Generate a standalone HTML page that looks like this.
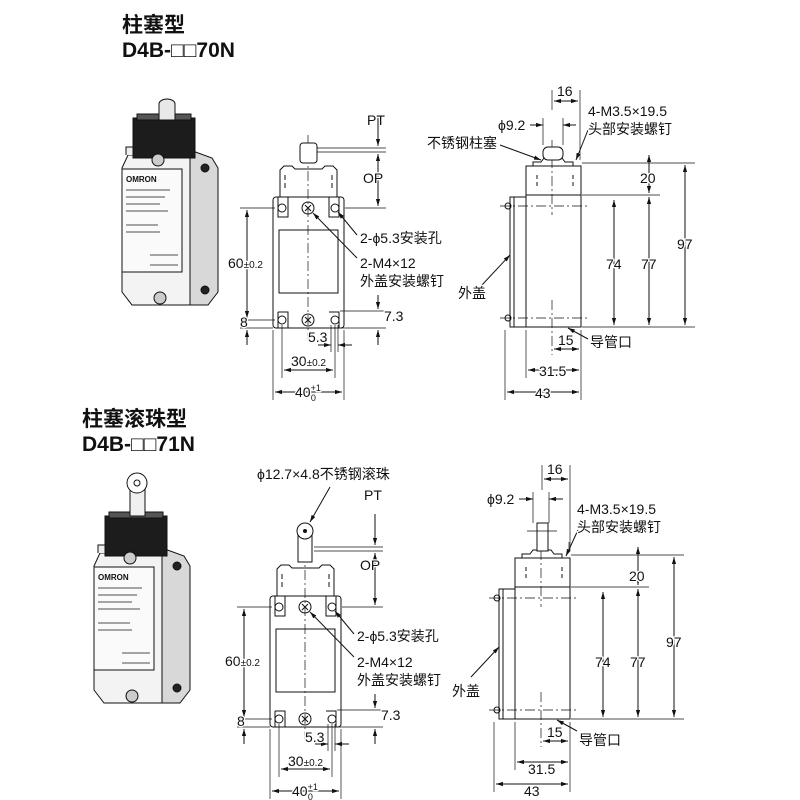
<!DOCTYPE html>
<html><head><meta charset="utf-8"><style>
body{margin:0;background:#fff}
svg{display:block}
text{font-family:"Liberation Sans","Noto Sans CJK SC",sans-serif;fill:#111}
.t text{stroke:#fff;stroke-width:2.5px;paint-order:stroke;stroke-linejoin:round}
</style></head><body>
<svg width="800" height="800" viewBox="0 0 800 800" xmlns="http://www.w3.org/2000/svg">
<defs>
<marker id="a" viewBox="0 0 10 10" refX="10" refY="5" markerWidth="7" markerHeight="7" orient="auto-start-reverse"><path d="M0,2 L10,5 L0,8z" fill="#111"/></marker>
<g id="front" stroke="#111" fill="none" stroke-width="1">
 <rect x="273" y="197" width="71" height="131" rx="3"/>
 <rect x="279" y="230" width="59" height="63"/>
 <path d="M280,197 V170 l4,-4 h8 l3,3 h27 l3,-3 h8 l4,4 V197"/>
 <line x1="285" y1="175" x2="285" y2="190" stroke-dasharray="5,3"/>
 <line x1="332" y1="175" x2="332" y2="190" stroke-dasharray="5,3"/>
 <path d="M278,197 v20 h10 v-20 M329,197 v20 h10 v-20 M278,312 v16 M339,312 v16 M278,312 h10 v16 M329,312 h10 v16"/>
 <circle cx="282" cy="208" r="4"/><circle cx="335" cy="208" r="4"/>
 <circle cx="282" cy="320" r="4"/><circle cx="335" cy="320" r="4"/>
 <circle cx="308" cy="208" r="6"/><circle cx="308" cy="320" r="6"/>
 <path d="M305,205 l6,6 M311,205 l-6,6 M305,317 l6,6 M311,317 l-6,6"/>
 <line x1="308" y1="135" x2="308" y2="340" stroke-dasharray="10,3,2,3" stroke-width="0.7"/>
 <line x1="240" y1="208" x2="275" y2="208" stroke-width="0.7"/>
 <line x1="240" y1="320" x2="275" y2="320" stroke-width="0.7"/>
 <line x1="240" y1="328" x2="273" y2="328" stroke-width="0.7"/>
 <line x1="247" y1="210" x2="247" y2="318" marker-start="url(#a)" marker-end="url(#a)"/>
 <line x1="247" y1="330" x2="247" y2="345" marker-start="url(#a)"/>
 <line x1="378" y1="115" x2="378" y2="146" marker-end="url(#a)"/>
 <line x1="378" y1="154" x2="378" y2="206" marker-start="url(#a)" marker-end="url(#a)"/>
 <line x1="317" y1="148" x2="386" y2="148" stroke-width="0.7"/>
 <line x1="317" y1="152" x2="386" y2="152" stroke-width="0.7"/>
 <line x1="345" y1="208" x2="386" y2="208" stroke-width="0.7"/>
 <line x1="340" y1="311" x2="386" y2="311" stroke-width="0.7"/>
 <line x1="340" y1="328" x2="386" y2="328" stroke-width="0.7"/>
 <line x1="378" y1="295" x2="378" y2="309" marker-end="url(#a)"/>
 <line x1="378" y1="330" x2="378" y2="345" marker-start="url(#a)"/>
 <line x1="273" y1="330" x2="273" y2="400" stroke-width="0.7"/>
 <line x1="344" y1="330" x2="344" y2="400" stroke-width="0.7"/>
 <line x1="282" y1="325" x2="282" y2="378" stroke-width="0.7"/>
 <line x1="335" y1="325" x2="335" y2="378" stroke-width="0.7"/>
 <line x1="331" y1="325" x2="331" y2="352" stroke-width="0.7"/>
 <line x1="338" y1="325" x2="338" y2="352" stroke-width="0.7"/>
 <line x1="318" y1="345" x2="331" y2="345" marker-end="url(#a)"/>
 <line x1="352" y1="345" x2="338" y2="345" marker-end="url(#a)"/>
 <line x1="284" y1="370" x2="333" y2="370" marker-start="url(#a)" marker-end="url(#a)"/>
 <line x1="275" y1="392" x2="342" y2="392" marker-start="url(#a)" marker-end="url(#a)"/>
 <line x1="357" y1="235" x2="338" y2="212" marker-end="url(#a)"/>
 <line x1="357" y1="258" x2="313" y2="213" marker-end="url(#a)"/>
</g>
<g id="side" stroke="#111" fill="none" stroke-width="1">
 <rect x="526" y="195" width="55" height="132"/>
 <path d="M526,195 V166 h55 V195"/>
 <path d="M533,166 v-4 h8 l3,-4 h18 l3,4 h8 v4"/>
 <rect x="510" y="197" width="16" height="130"/>
 <line x1="514" y1="197" x2="514" y2="327"/>
 <circle cx="508" cy="206" r="3"/><circle cx="508" cy="318" r="3"/>
 <line x1="537" y1="175" x2="537" y2="188" stroke-dasharray="4,3"/>
 <line x1="573" y1="175" x2="573" y2="188" stroke-dasharray="4,3"/>
 <line x1="552" y1="140" x2="552" y2="215" stroke-dasharray="10,3,2,3" stroke-width="0.7"/>
 <line x1="552" y1="300" x2="552" y2="355" stroke-dasharray="10,3,2,3" stroke-width="0.7"/>
 <line x1="500" y1="206" x2="590" y2="206" stroke-dasharray="10,3,2,3" stroke-width="0.7"/>
 <line x1="500" y1="318" x2="590" y2="318" stroke-dasharray="10,3,2,3" stroke-width="0.7"/>
 <line x1="582" y1="163" x2="695" y2="163" stroke-width="0.7"/>
 <line x1="582" y1="195" x2="660" y2="195" stroke-width="0.7"/>
 <line x1="582" y1="327" x2="695" y2="327" stroke-width="0.7"/>
 <line x1="685" y1="165" x2="685" y2="325" marker-start="url(#a)" marker-end="url(#a)"/>
 <line x1="649" y1="197" x2="649" y2="325" marker-start="url(#a)" marker-end="url(#a)"/>
 <line x1="649" y1="155" x2="649" y2="193" marker-start="url(#a)" marker-end="url(#a)"/>
 <line x1="614" y1="200" x2="614" y2="325" marker-start="url(#a)" marker-end="url(#a)"/>
 <line x1="580" y1="150" x2="580" y2="160" stroke-width="0.7"/>
 <line x1="505" y1="330" x2="505" y2="400" stroke-width="0.7"/>
 <line x1="526" y1="330" x2="526" y2="378" stroke-width="0.7"/>
 <line x1="581" y1="330" x2="581" y2="400" stroke-width="0.7"/>
 <line x1="554" y1="349" x2="579" y2="349" marker-start="url(#a)" marker-end="url(#a)"/>
 <line x1="528" y1="370" x2="579" y2="370" marker-start="url(#a)" marker-end="url(#a)"/>
 <line x1="507" y1="392" x2="579" y2="392" marker-start="url(#a)" marker-end="url(#a)"/>
 <line x1="482" y1="285" x2="510" y2="255" marker-end="url(#a)"/>
 <line x1="588" y1="339" x2="568" y2="328" marker-end="url(#a)"/>
</g>
<g id="photo" stroke="#111" stroke-width="1">
 <path d="M190,150 L212,158 L218,168 V292 L208,305 H190 Z" fill="#d8d8d8"/>
 <path d="M122,168 L128,155 H190 V305 H132 L122,292 Z" fill="#f3f3f3"/>
 <path d="M126,155 v-8 h14 v8 M176,155 v-8 h14 v8" fill="#eee"/>
 <rect x="133" y="118" width="62" height="40" fill="#1c1c1c"/>
 <path d="M137,120 h54 v-6 h-54z" fill="#555"/>
 <rect x="122" y="169" width="60" height="103" fill="#fafafa"/>
 <circle cx="158" cy="160" r="6" fill="#ccc"/>
 <circle cx="160" cy="298" r="6" fill="#ccc"/>
 <circle cx="205" cy="168" r="4" fill="#222"/>
 <circle cx="205" cy="290" r="4" fill="#222"/>
 <g stroke="#888" stroke-width="1.5">
  <line x1="126" y1="190" x2="170" y2="190"/><line x1="126" y1="197" x2="165" y2="197"/>
  <line x1="126" y1="204" x2="160" y2="204"/><line x1="126" y1="211" x2="168" y2="211"/>
  <line x1="126" y1="225" x2="158" y2="225"/><line x1="126" y1="232" x2="160" y2="232"/>
  <line x1="150" y1="255" x2="178" y2="255"/><line x1="150" y1="265" x2="178" y2="265"/>
 </g>
 <text x="126" y="182" font-size="8" font-weight="bold" stroke="none">OMRON</text>
</g>
</defs>

<text x="122" y="32" font-size="21" font-weight="bold">柱塞型</text>
<text x="122" y="57" font-size="21" font-weight="bold">D4B-<tspan font-weight="normal">□□</tspan>70N</text>
<use href="#photo"/>
<path d="M159,120 V104 a8,5 0 0 1 16,0 V120z" fill="#e8e8e8" stroke="#111"/>
<use href="#front"/>
<rect x="300" y="143" width="17" height="20" rx="3" fill="#fff" stroke="#111"/>
<use href="#side"/>
<rect x="543" y="147" width="20" height="13" rx="5" fill="#fff" stroke="#111"/>
<g stroke="#111" fill="none">
 <line x1="552" y1="90" x2="552" y2="110" stroke-width="0.7"/>
 <line x1="580" y1="90" x2="580" y2="150" stroke-width="0.7"/>
 <line x1="554" y1="101" x2="578" y2="101" marker-start="url(#a)" marker-end="url(#a)"/>
 <line x1="543" y1="118" x2="543" y2="145" stroke-width="0.7"/>
 <line x1="563" y1="118" x2="563" y2="145" stroke-width="0.7"/>
 <line x1="530" y1="125" x2="543" y2="125" marker-end="url(#a)"/>
 <line x1="576" y1="125" x2="563" y2="125" marker-end="url(#a)"/>
 <line x1="500" y1="145" x2="541" y2="160" marker-end="url(#a)"/>
 <line x1="588" y1="130" x2="576" y2="160" marker-end="url(#a)"/>
</g>
<g font-size="14" class="t">
<text x="367" y="125">PT</text><text x="363" y="183">OP</text>
<text x="360" y="243">2-ϕ5.3安装孔</text>
<text x="360" y="268">2-M4×12</text><text x="360" y="286">外盖安装螺钉</text>
<text x="384" y="321">7.3</text><text x="308" y="342">5.3</text>
<text x="228" y="268">60<tspan font-size="10">±0.2</tspan></text>
<text x="240" y="327">8</text>
<text x="291" y="366">30<tspan font-size="10">±0.2</tspan></text>
<text x="295" y="397">40<tspan font-size="9" dy="-6">+1</tspan><tspan font-size="9" dx="-10" dy="10">0</tspan></text>
<text x="557" y="96">16</text><text x="498" y="130">ϕ9.2</text>
<text x="427" y="148">不锈钢柱塞</text>
<text x="588" y="116">4-M3.5×19.5</text><text x="588" y="134">头部安装螺钉</text>
<text x="640" y="183">20</text><text x="606" y="269">74</text><text x="641" y="269">77</text><text x="677" y="249">97</text>
<text x="458" y="298">外盖</text>
<text x="558" y="345">15</text><text x="590" y="347">导管口</text>
<text x="539" y="376">31.5</text><text x="535" y="398">43</text>
</g>

<text x="82" y="426" font-size="21" font-weight="bold">柱塞滚珠型</text>
<text x="82" y="451" font-size="21" font-weight="bold">D4B-<tspan font-weight="normal">□□</tspan>71N</text>
<g transform="translate(-28,398)"><use href="#photo"/></g>
<rect x="130" y="488" width="15" height="28" fill="#f0f0f0" stroke="#111"/>
<circle cx="137" cy="483" r="10" fill="#fff" stroke="#111"/>
<circle cx="137" cy="483" r="3" fill="#fff" stroke="#111"/>
<g transform="translate(-3,399)"><use href="#front"/></g>
<rect x="298" y="531" width="14" height="31" fill="#fff" stroke="#111"/>
<circle cx="305" cy="531" r="8" fill="#fff" stroke="#111"/>
<circle cx="305" cy="531" r="2" fill="#111"/>
<line x1="330" y1="487" x2="310" y2="522" stroke="#111" marker-end="url(#a)"/>
<g transform="translate(-11,392)"><use href="#side"/></g>
<g stroke="#111" fill="none">
 <rect x="537" y="523" width="11" height="28" fill="#fff"/>
 <line x1="527" y1="531" x2="557" y2="531" stroke-width="0.7"/>
 <line x1="542" y1="465" x2="542" y2="490" stroke-width="0.7"/>
 <line x1="570" y1="465" x2="570" y2="550" stroke-width="0.7"/>
 <line x1="544" y1="479" x2="568" y2="479" marker-start="url(#a)" marker-end="url(#a)"/>
 <line x1="533" y1="492" x2="533" y2="523" stroke-width="0.7"/>
 <line x1="549" y1="492" x2="549" y2="523" stroke-width="0.7"/>
 <line x1="519" y1="499" x2="533" y2="499" marker-end="url(#a)"/>
 <line x1="563" y1="499" x2="549" y2="499" marker-end="url(#a)"/>
 <line x1="578" y1="530" x2="566" y2="556" marker-end="url(#a)"/>
</g>
<g font-size="14" class="t">
<text x="257" y="479">ϕ12.7×4.8不锈钢滚珠</text>
<text x="364" y="500">PT</text><text x="360" y="570">OP</text>
<text x="357" y="641">2-ϕ5.3安装孔</text>
<text x="357" y="667">2-M4×12</text><text x="357" y="685">外盖安装螺钉</text>
<text x="381" y="720">7.3</text><text x="305" y="742">5.3</text>
<text x="225" y="666">60<tspan font-size="10">±0.2</tspan></text>
<text x="237" y="726">8</text>
<text x="288" y="766">30<tspan font-size="10">±0.2</tspan></text>
<text x="292" y="796">40<tspan font-size="9" dy="-6">+1</tspan><tspan font-size="9" dx="-10" dy="10">0</tspan></text>
<text x="547" y="474">16</text><text x="487" y="504">ϕ9.2</text>
<text x="577" y="514">4-M3.5×19.5</text><text x="577" y="532">头部安装螺钉</text>
<text x="629" y="581">20</text><text x="595" y="667">74</text><text x="630" y="667">77</text><text x="666" y="647">97</text>
<text x="452" y="696">外盖</text>
<text x="547" y="737">15</text><text x="579" y="745">导管口</text>
<text x="528" y="774">31.5</text><text x="524" y="796">43</text>
</g>
</svg>
</body></html>
